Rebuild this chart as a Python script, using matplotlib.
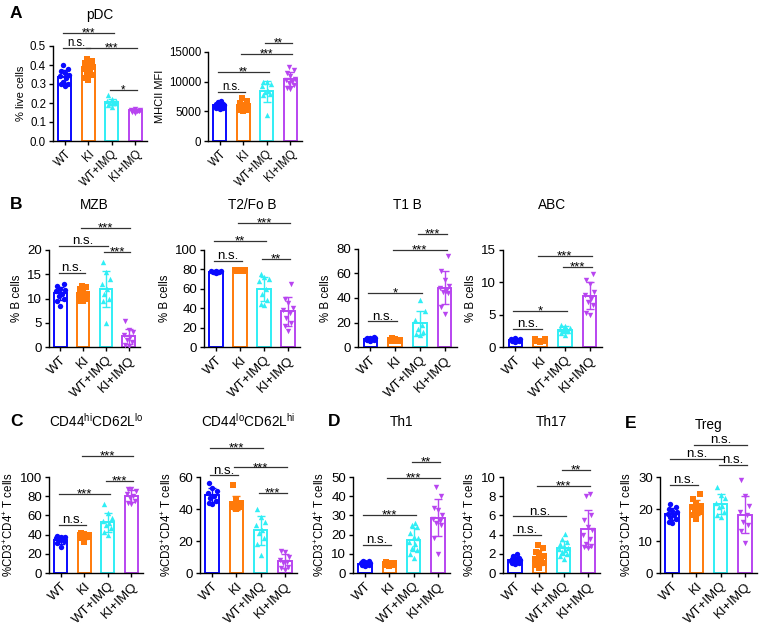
import matplotlib.pyplot as plt
import numpy as np

plt.rcParams['font.family'] = ['Liberation Sans', 'DejaVu Sans']
plt.rcParams['mathtext.fontset'] = 'custom'
plt.rcParams['mathtext.rm'] = 'Liberation Sans'
plt.rcParams['mathtext.it'] = 'Liberation Sans'
plt.rcParams['mathtext.default'] = 'regular'

W, H = 765, 630

groups = ['WT', 'KI', 'WT+IMQ', 'KI+IMQ']
colors = ['#0a0aff', '#ff7a0a', '#30eef5', '#b845f0']
markers = ['o', 's', '^', 'v']

# values (one list per group: WT, KI, WT+IMQ, KI+IMQ)
pdc_live = [[0.40, 0.38, 0.37, 0.36, 0.35, 0.34, 0.33, 0.31, 0.30, 0.29, 0.30],
            [0.43, 0.42, 0.41, 0.40, 0.39, 0.38, 0.37, 0.36, 0.35, 0.33, 0.32],
            [0.24, 0.22, 0.21, 0.21, 0.20, 0.20, 0.19, 0.18, 0.20],
            [0.17, 0.165, 0.16, 0.16, 0.155, 0.15, 0.16, 0.165]]
mhcii = [[6800, 6500, 6300, 6100, 6000, 5900, 5800, 5700, 5500, 5600, 6200, 5400],
         [7200, 6700, 6400, 6100, 5900, 5700, 5500, 5300, 5200, 5000, 5800],
         [10000, 9900, 9600, 9200, 8500, 8200, 8000, 7800, 4300],
         [12500, 12000, 11500, 11000, 10500, 10200, 10000, 9800, 9500, 9000, 8800]]
mzb = [[13, 12.6, 12, 11.5, 11, 10.5, 10, 9.5, 8.5, 11.8],
       [12.5, 12.3, 12, 11.5, 11, 10.8, 10.5, 10, 9.5, 9.5, 10.3],
       [17.5, 15.5, 14, 13, 12, 11, 10, 9.5, 5],
       [5.3, 3.5, 3, 2.5, 2, 1.5, 1, 0.5, 0.2]]
t2fo = [[78, 77.5, 77, 78, 76.5, 77, 78.5, 77.5],
        [79, 78, 78.5, 79, 78, 78.5, 79.5, 78],
        [75, 72, 70, 68, 60, 55, 48, 44, 43],
        [65, 50, 45, 40, 38, 35, 30, 25, 22, 16]]
t1b = [[8, 7.5, 7, 6.5, 6, 6, 5.5, 5, 7, 6.5],
       [7, 6.5, 6, 5.5, 5, 5, 4.5, 4.5, 6],
       [38, 29, 22, 18, 15, 12, 11, 10],
       [74, 62, 55, 50, 48, 46, 45, 44, 33, 27]]
abc = [[1.4, 1.3, 1.2, 1.1, 1.0, 0.9, 0.8, 1.1],
       [1.3, 1.2, 1.0, 0.9, 0.8, 1.0, 0.9],
       [3.4, 3.2, 3.0, 2.8, 2.6, 2.4, 2.2, 1.8, 2.7],
       [11.3, 10.3, 9.8, 8.5, 8, 7.5, 7, 6.5, 5.2, 5.0]]
cd44hi = [[39, 38, 37, 36, 35, 34, 33, 31, 27],
          [42, 41, 40, 40, 39, 38, 37, 36, 32],
          [72, 62, 57, 54, 52, 50, 47, 43, 40],
          [88, 87, 85, 82, 80, 78, 75, 73, 72]]
cd44lo = [[56, 53, 51, 50, 48, 47, 45, 43, 44],
          [55, 46, 44, 43, 42, 42, 41, 40, 41],
          [40, 35, 32, 30, 27, 25, 22, 18, 11],
          [14, 13, 10, 8, 6, 4, 3, 2, 7]]
th1 = [[6.5, 6, 5.5, 5, 5, 4.5, 4, 4, 3.5, 4.5, 5.5],
       [5.5, 5, 5, 4.5, 4.5, 4, 4, 3.5, 4.5],
       [26, 25, 24, 21, 19, 18, 16, 15, 13, 12, 10, 8],
       [45, 40, 34, 33, 30, 28, 27, 25, 18, 10, 26]]
th17 = [[2.0, 1.8, 1.6, 1.5, 1.4, 1.3, 1.2, 1.1, 1.0, 1.0, 1.5, 0.9],
        [2.9, 2.6, 2.2, 2.0, 1.8, 1.5, 1.2, 1.0, 0.8, 0.5, 1.4],
        [4.1, 3.5, 3.2, 3.0, 2.8, 2.6, 2.4, 2.2, 1.8, 1.5, 2.5, 2.0],
        [8.2, 8.0, 6.0, 5.5, 4.8, 4.5, 4.0, 3.5, 3.0, 2.7, 2.6, 2.8]]
treg = [[21.5, 20.5, 20, 19.5, 19, 18.5, 18, 17.5, 17, 16, 15.5],
        [24.8, 23, 22, 21, 20.5, 20, 19.5, 19, 18, 17],
        [27, 24.5, 23.5, 22, 21, 20.5, 19, 18, 17.5],
        [29, 24, 21, 19, 18, 16, 15, 13, 9.5]]

# significance brackets: (from group, to group, height, label)
sig_pdc = [(0, 2, 0.568, '***'), (0, 1, 0.49, 'n.s.'), (1, 3, 0.49, '***'), (2, 3, 0.268, '*')]
sig_mhcii = [(2, 3, 16500, '**'), (1, 3, 14660, '***'), (0, 2, 11630, '**'), (0, 1, 8260, 'n.s.')]
sig_mzb = [(1, 3, 24.5, '***'), (0, 2, 20.8, 'n.s.'), (2, 3, 19.6, '***'), (0, 1, 15.3, 'n.s.')]
sig_t2fo = [(1, 3, 128, '***'), (0, 2, 109, '**'), (0, 1, 89, 'n.s.'), (2, 3, 91, '**')]
sig_t1b = [(2, 3, 92, '***'), (1, 3, 79, '***'), (0, 2, 44, '*'), (0, 1, 21, 'n.s.')]
sig_abc = [(1, 3, 14.1, '***'), (2, 3, 12.4, '***'), (0, 2, 5.6, '*'), (0, 1, 2.8, 'n.s.')]
sig_cd44hi = [(1, 3, 122, '***'), (2, 3, 96, '***'), (0, 2, 82, '***'), (0, 1, 50, 'n.s.')]
sig_cd44lo = [(0, 2, 78, '***'), (1, 3, 66, '***'), (0, 1, 61, 'n.s.'), (2, 3, 50, '***')]
sig_th1 = [(2, 3, 57.8, '**'), (1, 3, 49.5, '***'), (0, 2, 30.2, '***'), (0, 1, 14.6, 'n.s.')]
sig_th17 = [(2, 3, 10.7, '**'), (1, 3, 9.1, '***'), (0, 2, 5.9, 'n.s.'), (0, 1, 4.0, 'n.s.')]
sig_treg = [(1, 3, 40, 'n.s.'), (0, 2, 35.6, 'n.s.'), (2, 3, 33.8, 'n.s.'), (0, 1, 27.5, 'n.s.')]

tcell = '%CD3$^{+}$CD4$^{+}$ T cells'


def spread(vals):
    # horizontal scatter so points do not sit on top of each other
    order = np.argsort(vals)
    pattern = [0, -0.14, 0.14, -0.07, 0.07, -0.19, 0.19]
    off = np.zeros(len(vals))
    for k, idx in enumerate(order):
        off[idx] = pattern[k % len(pattern)]
    return off


def panel(fig, box, data, yticks, ylabel, sig, title=None, fmt='{:g}', fs=9.5, lfs=8.3):
    x0, x1, ytop, ybot = box
    ax = fig.add_axes([x0 / W, (H - ybot) / H, (x1 - x0) / W, (ybot - ytop) / H])
    for i, vals in enumerate(data):
        vals = np.array(vals, dtype=float)
        m, sd = vals.mean(), vals.std(ddof=1)
        ax.bar(i, m, width=0.55, facecolor='white', edgecolor=colors[i], linewidth=1.4, zorder=2)
        ax.scatter(i + spread(vals), vals, s=15, marker=markers[i], color=colors[i],
                   linewidths=0, zorder=3)
        ax.errorbar(i, m, yerr=sd, color=colors[i], capsize=3, elinewidth=1, capthick=1, zorder=4)
    ax.set_xlim(-0.5, 3.5)
    ax.set_ylim(yticks[0], yticks[-1])
    ax.set_yticks(yticks)
    ax.set_yticklabels([fmt.format(t) for t in yticks])
    ax.set_xticks(range(4))
    ax.set_xticklabels(groups, rotation=45, ha='right', rotation_mode='anchor')
    ax.tick_params(labelsize=fs, length=3, width=1, pad=2)
    ax.spines['top'].set_visible(False)
    ax.spines['right'].set_visible(False)
    ax.spines['left'].set_linewidth(1)
    ax.spines['bottom'].set_linewidth(1)
    ax.set_ylabel(ylabel, fontsize=lfs, labelpad=3)
    for i, j, y, lab in sig:
        ax.plot([i - 0.08, j + 0.08], [y, y], color='#333333', lw=0.9, clip_on=False)
        if lab == 'n.s.':
            ax.annotate(lab, ((i + j) / 2, y), xytext=(0, 1.2), textcoords='offset points',
                        ha='center', va='baseline', fontsize=fs, annotation_clip=False)
        else:
            ax.annotate(lab, ((i + j) / 2, y), xytext=(0, -2.6), textcoords='offset points',
                        ha='center', va='baseline', fontsize=fs, annotation_clip=False)
    if title:
        fig.text((x0 + x1) / 2 / W, 1 - title[1] / H, title[0], ha='center', va='center', fontsize=9.8)
    return ax


fig = plt.figure(figsize=(7.65, 6.3), dpi=100)

panel(fig, (53, 147, 46, 141), pdc_live, [0, 0.1, 0.2, 0.3, 0.4, 0.5], '% live cells', sig_pdc,
      title=('pDC', 15), fmt='{:.1f}', fs=8.3, lfs=8)
panel(fig, (208, 302, 52, 141), mhcii, [0, 5000, 10000, 15000], 'MHCII MFI', sig_mhcii, fs=8.3, lfs=8)

panel(fig, (49, 140, 250, 347), mzb, [0, 5, 10, 15, 20], '% B cells', sig_mzb, title=('MZB', 205))
panel(fig, (204, 300, 250, 347), t2fo, [0, 20, 40, 60, 80, 100], '% B cells', sig_t2fo,
      title=('T2/Fo B', 205))
panel(fig, (358, 457, 249, 347), t1b, [0, 20, 40, 60, 80], '% B cells', sig_t1b, title=('T1 B', 205))
panel(fig, (503, 602, 250, 347), abc, [0, 5, 10, 15], '% B cells', sig_abc, title=('ABC', 205))

panel(fig, (49, 143, 477, 573), cd44hi, [0, 20, 40, 60, 80, 100], tcell, sig_cd44hi,
      title=('CD44$^{hi}$CD62L$^{lo}$', 421))
panel(fig, (200, 297, 477, 573), cd44lo, [0, 20, 40, 60], tcell, sig_cd44lo,
      title=('CD44$^{lo}$CD62L$^{hi}$', 421))
panel(fig, (353, 450, 477, 573), th1, [0, 10, 20, 30, 40, 50], tcell, sig_th1, title=('Th1', 422))
panel(fig, (503, 600, 477, 573), th17, [0, 2, 4, 6, 8, 10], tcell, sig_th17, title=('Th17', 422))
panel(fig, (660, 757, 477, 573), treg, [0, 10, 20, 30], tcell, sig_treg, title=('Treg', 425))

for lab, x, y in [('A', 10, 14), ('B', 10, 205), ('C', 10, 421), ('D', 328, 422), ('E', 625, 423)]:
    fig.text(x / W, 1 - y / H, lab, fontsize=12.5, fontweight='bold', va='center', ha='left')

fig.savefig('out.png', dpi=100)
